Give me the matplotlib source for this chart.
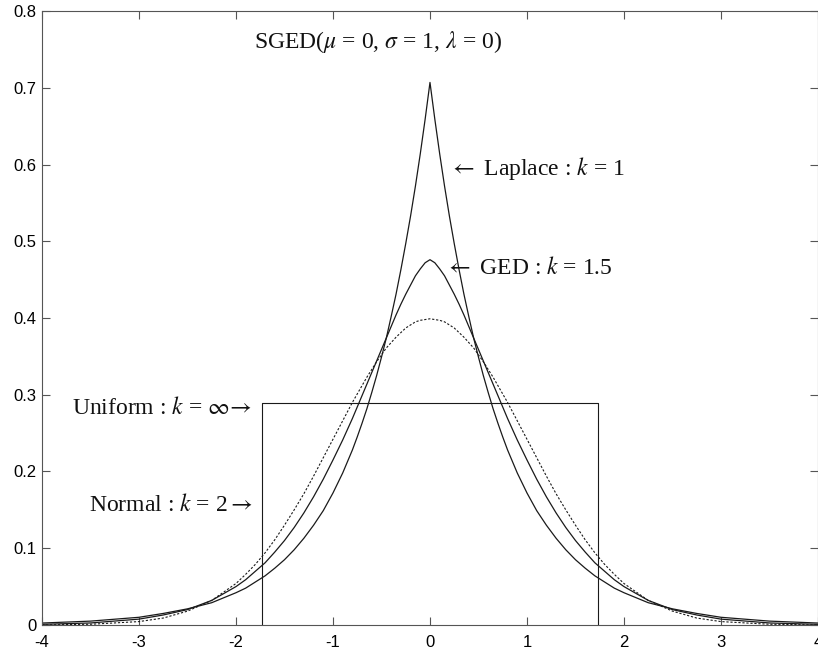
import matplotlib
matplotlib.use('Agg')
import matplotlib.pyplot as plt

plt.rcParams['mathtext.fontset'] = 'stix'

# density values read on the right half (x >= 0); curves are symmetric
x_half = [0, 0.05, 0.1, 0.15, 0.2, 0.25, 0.3, 0.35, 0.4, 0.45, 0.5, 0.55, 0.6,
          0.65, 0.7, 0.75, 0.8, 0.85, 0.9, 0.95, 1.0, 1.1, 1.2, 1.3, 1.4, 1.5,
          1.6, 1.7, 1.8, 1.9, 2.0, 2.25, 2.5, 2.75, 3.0, 3.5, 4.0]
normal_half = [0.399, 0.398, 0.397, 0.395, 0.391, 0.387, 0.381, 0.375, 0.368,
               0.361, 0.352, 0.343, 0.333, 0.323, 0.312, 0.301, 0.290, 0.278,
               0.266, 0.254, 0.242, 0.218, 0.194, 0.171, 0.150, 0.130, 0.111,
               0.094, 0.079, 0.066, 0.054, 0.032, 0.018, 0.009, 0.0044, 0.0009,
               0.0001]
ged_half = [0.476, 0.472, 0.464, 0.455, 0.443, 0.431, 0.418, 0.404, 0.389,
            0.374, 0.359, 0.344, 0.329, 0.314, 0.299, 0.284, 0.269, 0.255,
            0.241, 0.228, 0.215, 0.190, 0.167, 0.146, 0.127, 0.110, 0.095,
            0.081, 0.070, 0.059, 0.050, 0.032, 0.020, 0.013, 0.0076, 0.0026,
            0.0008]
laplace_half = [0.707, 0.659, 0.614, 0.572, 0.533, 0.497, 0.463, 0.431, 0.402,
                0.374, 0.349, 0.325, 0.303, 0.282, 0.263, 0.245, 0.228, 0.213,
                0.198, 0.185, 0.172, 0.149, 0.130, 0.113, 0.098, 0.085, 0.074,
                0.064, 0.056, 0.048, 0.042, 0.029, 0.021, 0.015, 0.010, 0.005,
                0.0025]

uniform_edge = 1.732
uniform_height = 0.289

xticks = [-4, -3, -2, -1, 0, 1, 2, 3, 4]
yticks = [0, 0.1, 0.2, 0.3, 0.4, 0.5, 0.6, 0.7, 0.8]
ytick_labels = ['0', '0.1', '0.2', '0.3', '0.4', '0.5', '0.6', '0.7', '0.8']


def mirror(xs, ys):
    return [-v for v in xs[:0:-1]] + xs, ys[:0:-1] + ys


fig = plt.figure(figsize=(8.18, 6.51), dpi=100)
ax = fig.add_axes([0.0513, 0.040, 0.9487, 0.943])

line_kw = dict(color='#1a1a1a', lw=0.9)
ax.plot(*mirror(x_half, laplace_half), **line_kw)
ax.plot(*mirror(x_half, ged_half), **line_kw)
ax.plot(*mirror(x_half, normal_half), color='#1a1a1a', lw=0.8,
        linestyle=(0, (2.0, 1.6)))
ax.plot([-uniform_edge, -uniform_edge, uniform_edge, uniform_edge],
        [0, uniform_height, uniform_height, 0], color='#1a1a1a', lw=0.8)

ax.set_xlim(-4, 4)
ax.set_ylim(0, 0.8)
ax.set_xticks(xticks)
ax.set_xticklabels([str(t) for t in xticks])
ax.set_yticks(yticks)
ax.set_yticklabels(ytick_labels)
ax.tick_params(direction='in', length=6, width=0.8, color='#555555',
               top=True, right=True, labelsize=12)
ax.tick_params(axis='x', pad=7)
ax.tick_params(axis='y', pad=4)
for lab in ax.get_xticklabels() + ax.get_yticklabels():
    lab.set_fontfamily('Liberation Sans')
for s in ax.spines.values():
    s.set_color('#555555')
    s.set_linewidth(0.8)

serif = dict(fontfamily='Liberation Serif', fontsize=17, va='center',
             color='#111111')
ax.text(-0.54, 0.760, r'SGED($\mu$ = 0, $\sigma$ = 1, $\lambda$ = 0)',
        ha='center', **serif)
ax.text(0.2, 0.595, r'$\leftarrow$ Laplace : $k$ = 1', ha='left', **serif)
ax.text(0.15, 0.465, r'$\leftarrow$ GED : $k$ = 1.5', ha='left', **serif)
ax.text(-1.83, 0.283, r'Uniform : $k$ = $\infty\!\rightarrow$', ha='right',
        **serif)
ax.text(-1.83, 0.156, r'Normal : $k$ = 2$\rightarrow$', ha='right', **serif)

fig.savefig('out.png', dpi=100)
